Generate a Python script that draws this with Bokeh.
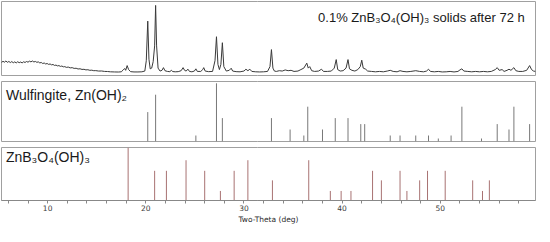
from bokeh.plotting import figure
from bokeh.layouts import column
from bokeh.models import Range1d, FixedTicker, Label, ColumnDataSource
from bokeh.embed import file_html
from bokeh.resources import INLINE

# ---------------- data ----------------
# measured pattern: 0.1% ZnB3O4(OH)3 solids after 72 h
xrd_theta = [5.0, 5.15, 5.3, 5.45, 5.6, 5.75, 5.9, 6.05, 6.2, 6.35, 6.5, 6.65, 6.8, 6.95,
             7.1, 7.25, 7.4, 7.55, 7.7, 7.85, 8.0, 8.15, 8.3, 8.45, 8.6, 8.75, 8.9, 9.05,
             9.2, 9.35, 9.5, 9.65, 9.8, 9.95, 10.1, 10.25, 10.4, 10.55, 10.7, 10.85, 11.0,
             11.15, 11.3, 11.45, 11.6, 11.75, 11.9, 12.1, 12.3, 12.5, 12.7, 12.9, 13.1, 13.3,
             13.5, 13.7, 13.9, 14.1, 14.3, 14.5, 14.7, 14.9, 15.2, 15.5, 15.8, 16.1, 16.4,
             16.8, 17.2, 17.5, 17.7, 17.85, 17.95, 18.1, 18.25, 18.45, 18.8, 19.2, 19.6, 19.9,
             20.05, 20.2, 20.32, 20.45, 20.6, 20.75, 20.9, 21.0, 21.1, 21.25, 21.45, 21.65,
             21.8, 21.95, 22.2, 22.45, 22.6, 22.75, 23.0, 23.3, 23.6, 23.8, 23.95, 24.1, 24.3,
             24.45, 24.7, 24.95, 25.1, 25.25, 25.6, 25.8, 25.9, 26.05, 26.4, 26.8, 27.05, 27.2,
             27.35, 27.5, 27.65, 27.8, 27.95, 28.2, 28.5, 28.7, 28.85, 29.2, 29.6, 30.0, 30.2,
             30.4, 30.6, 30.8, 31.2, 31.6, 32.0, 32.4, 32.65, 32.8, 32.95, 33.1, 33.3, 33.6,
             33.9, 34.2, 34.5, 34.8, 35.1, 35.5, 35.8, 36.1, 36.4, 36.55, 36.7, 36.9, 37.2,
             37.6, 37.9, 38.1, 38.5, 38.9, 39.2, 39.4, 39.55, 39.8, 40.1, 40.4, 40.6, 40.75,
             41.0, 41.3, 41.6, 41.85, 42.0, 42.15, 42.4, 42.6, 43.0, 43.4, 43.8, 44.2, 44.6,
             44.9, 45.2, 45.6, 45.9, 46.2, 46.6, 47.0, 47.5, 47.9, 48.3, 48.6, 48.8, 49.0,
             49.4, 49.8, 50.2, 50.6, 51.0, 51.4, 51.8, 52.0, 52.2, 52.4, 52.8, 53.2, 53.6,
             54.0, 54.4, 54.8, 55.2, 55.6, 55.8, 56.0, 56.3, 56.5, 56.8, 57.0, 57.2, 57.5,
             57.7, 58.0, 58.4, 58.8, 59.1, 59.3, 59.5, 59.7]
xrd_counts = [18.5, 19.8, 17.6, 19.2, 18.0, 19.6, 17.8, 19.0, 17.5, 18.8, 17.2, 18.4, 17.0, 18.6,
              17.3, 18.2, 17.0, 18.5, 17.6, 18.9, 18.0, 19.4, 18.4, 19.6, 18.3, 19.0, 17.8, 18.4,
              17.0, 17.6, 16.2, 16.9, 15.6, 16.2, 15.0, 15.6, 14.4, 14.9, 13.6, 14.1, 13.0,
              13.4, 12.3, 12.8, 11.7, 12.0, 11.0, 11.4, 10.3, 10.6, 9.6, 9.8, 8.8, 9.1,
              8.2, 8.4, 7.6, 7.8, 7.0, 7.2, 6.5, 6.6, 6.0, 6.1, 5.5, 5.4, 5.0,
              4.8, 4.7, 5.0, 7.5, 9.5, 7.0, 13.4, 8.0, 5.2, 4.8, 4.8, 5.0, 6.0,
              20.0, 73.5, 22.0, 9.0, 10.0, 18.7, 40.0, 94.7, 40.0, 10.0, 6.0, 7.0,
              10.6, 6.5, 5.5, 5.2, 7.0, 5.3, 5.0, 5.2, 6.5, 10.6, 7.0, 6.0, 8.5,
              5.5, 5.0, 6.0, 9.0, 5.5, 5.5, 8.0, 10.6, 6.0, 5.2, 5.5, 20.0, 52.4,
              15.0, 8.0, 15.0, 44.3, 12.0, 6.0, 7.0, 9.8, 6.0, 5.2, 5.0, 6.0, 8.5,
              6.5, 8.5, 5.5, 5.0, 4.8, 5.0, 5.5, 12.0, 35.0, 10.0, 6.0, 5.5, 6.5,
              6.0, 7.5, 6.5, 7.0, 5.5, 6.0, 8.0, 10.0, 16.7, 10.0, 12.0, 6.5, 5.5,
              6.0, 8.5, 5.5, 5.5, 6.0, 10.0, 21.5, 8.0, 6.0, 6.5, 10.0, 21.5, 9.0,
              7.0, 6.0, 8.0, 12.0, 20.7, 10.0, 8.5, 6.0, 5.5, 5.0, 5.5, 5.0, 6.0,
              7.0, 5.5, 5.0, 6.5, 5.5, 5.0, 5.5, 6.5, 5.5, 5.0, 6.0, 8.5, 5.5,
              5.0, 5.5, 4.8, 5.0, 5.5, 4.8, 5.5, 7.5, 9.0, 6.0, 5.5, 5.0, 5.5,
              5.0, 5.5, 5.0, 5.5, 8.0, 10.6, 7.0, 8.0, 5.5, 7.0, 8.5, 7.0, 10.6,
              6.5, 5.5, 5.5, 7.0, 13.4, 8.0, 6.0, 5.5]

# reference pattern: Wulfingite, Zn(OH)2
wulf_theta = [20.2, 21.0, 25.1, 27.2, 27.8, 32.8, 34.7, 36.1, 36.5, 38.0, 39.3, 40.6, 41.9,
              42.3, 44.9, 45.9, 47.5, 48.8, 49.8, 51.1, 52.2, 54.2, 55.8, 57.0, 57.5, 59.1]
wulf_int = [0.49, 0.78, 0.10, 0.97, 0.39, 0.39, 0.20, 0.10, 0.58, 0.20, 0.39, 0.39, 0.29,
            0.29, 0.10, 0.10, 0.10, 0.10, 0.05, 0.10, 0.58, 0.05, 0.29, 0.20, 0.58, 0.29]

# reference pattern: ZnB3O4(OH)3
znb_theta = [18.2, 20.9, 22.1, 24.1, 26.0, 27.6, 29.0, 30.4, 32.9, 36.6, 38.8, 39.9, 40.9,
             43.1, 44.0, 45.9, 46.6, 47.9, 48.7, 50.5, 53.3, 54.3, 55.0]
znb_int = [1.00, 0.56, 0.56, 0.76, 0.56, 0.18, 0.56, 0.76, 0.38, 0.76, 0.18, 0.18, 0.18,
           0.56, 0.38, 0.56, 0.18, 0.38, 0.56, 0.56, 0.38, 0.18, 0.38]

x_ticks = [6, 8, 10, 12, 14, 16, 18, 20, 22, 24, 26, 28, 30, 32, 34, 36, 38, 40, 42, 44,
           46, 48, 50, 52, 54, 56, 58]
x_tick_labels = {10: "10", 20: "20", 30: "30", 40: "40", 50: "50"}

title_top = "0.1% ZnB\u2083O\u2084(OH)\u2083 solids after 72 h"
title_mid = "Wulfingite, Zn(OH)\u2082"
title_bot = "ZnB\u2083O\u2084(OH)\u2083"

# ---------------- styling ----------------
W = 536
X0, X1 = 5.3, 59.7
FRAME = "#a0a0a0"
FONT = "Liberation Sans"


def base_fig(height, yr, with_axis=False):
    kw = dict(width=W, height=height, x_range=Range1d(X0, X1), y_range=Range1d(*yr),
              output_backend="svg", toolbar_location=None, y_axis_type=None,
              min_border_left=1, min_border_right=1, min_border_top=1,
              min_border_bottom=0 if with_axis else 1)
    if not with_axis:
        kw["x_axis_type"] = None
    p = figure(**kw)
    p.grid.visible = False
    p.outline_line_color = FRAME
    p.outline_line_width = 1
    p.background_fill_color = "white"
    p.border_fill_color = "white"
    return p


# top panel: measured pattern
p1 = base_fig(76, (0, 100))
p1.line(xrd_theta, xrd_counts, line_color="#3a3a3a", line_width=1)
p1.add_layout(Label(x=58.6, y=79, text=title_top, text_align="right",
                    text_baseline="middle", text_font=FONT, text_font_size="13px",
                    text_color="#1a1a1a"))

# middle panel: Wulfingite sticks
p2 = base_fig(62, (0, 1))
src2 = ColumnDataSource(dict(x=wulf_theta, h=wulf_int, z=[0] * len(wulf_theta)))
p2.segment(x0="x", y0="z", x1="x", y1="h", source=src2, line_color="#787878", line_width=1)
p2.add_layout(Label(x=5.75, y=0.77, text=title_mid, text_align="left",
                    text_baseline="middle", text_font=FONT, text_font_size="14px",
                    text_color="#1a1a1a"))

# bottom panel: ZnB3O4(OH)3 sticks + x axis
p3 = base_fig(80, (0, 1), with_axis=True)
src3 = ColumnDataSource(dict(x=znb_theta, h=znb_int, z=[0] * len(znb_theta)))
p3.segment(x0="x", y0="z", x1="x", y1="h", source=src3, line_color="#a87272", line_width=1)
p3.add_layout(Label(x=5.75, y=0.82, text=title_bot, text_align="left",
                    text_baseline="middle", text_font=FONT, text_font_size="14px",
                    text_color="#1a1a1a"))

ax = p3.xaxis[0]
ax.ticker = FixedTicker(ticks=x_ticks)
ax.major_label_overrides = {t: x_tick_labels.get(t, "") for t in x_ticks}
ax.minor_tick_line_color = None
ax.major_tick_in = 0
ax.major_tick_out = 3
ax.major_tick_line_color = "#888888"
ax.axis_line_color = "#888888"
ax.major_label_text_font = "DejaVu Sans"
ax.major_label_text_font_size = "7.5px"
ax.major_label_text_color = "#3a3a3a"
ax.major_label_standoff = 1
ax.axis_label = "Two-Theta (deg)"
ax.axis_label_text_font = "DejaVu Sans"
ax.axis_label_text_font_size = "7.5px"
ax.axis_label_text_font_style = "normal"
ax.axis_label_text_color = "#2a2a2a"
ax.axis_label_standoff = 1

layout = column(p1, p2, p3, spacing=4)

open("out.html", "w").write(file_html(layout, INLINE))
